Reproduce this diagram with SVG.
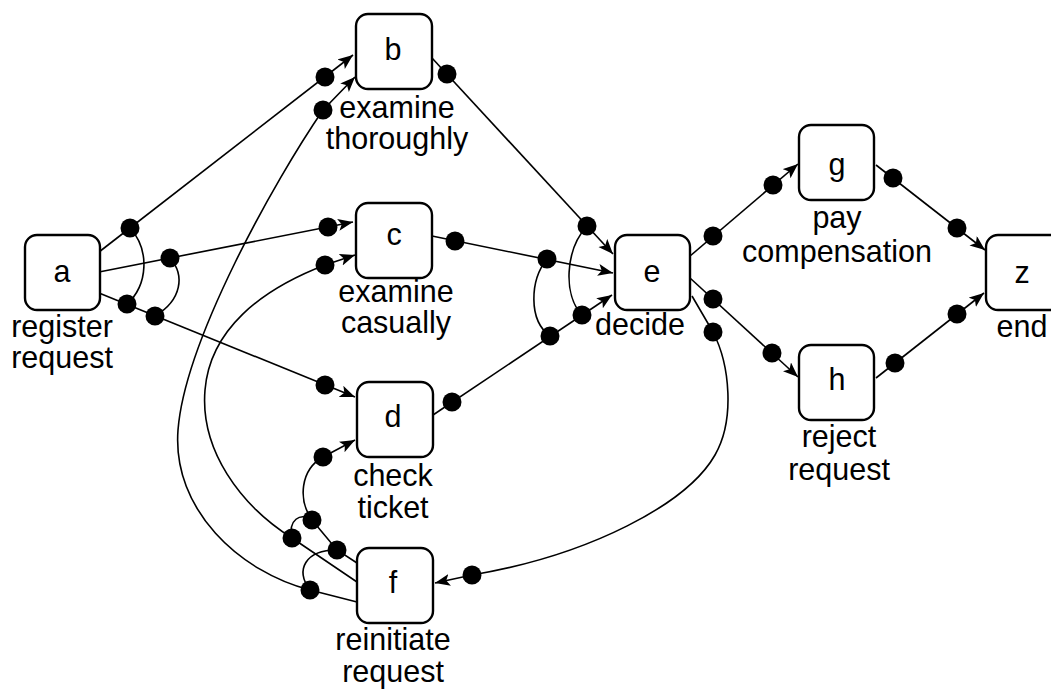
<svg xmlns="http://www.w3.org/2000/svg" width="1051" height="689" viewBox="0 0 1051 689">
<style>
.box{fill:#fff;stroke:#000;stroke-width:2.4}
.t{font-family:"Liberation Sans",Arial,sans-serif;font-size:30.5px;text-anchor:middle;fill:#000}
.e{fill:none;stroke:#000;stroke-width:1.6}
.arr{marker-end:url(#ah)}
.dot{fill:#000}
</style>
<defs>
<marker id="ah" markerUnits="userSpaceOnUse" markerWidth="16" markerHeight="13" refX="15" refY="6" orient="auto">
<path d="M0,0 L15,6 L0,12 L3.5,6 z" fill="#000"/>
</marker>
</defs>
<rect width="1051" height="689" fill="#fff"/>
<g id="connectors">
<path class="e arr" d="M99 252 L353 55"/>
<path class="e arr" d="M99 272 L353 222"/>
<path class="e arr" d="M99 293 L355 397"/>
<path class="e arr" d="M432 58 L613 254"/>
<path class="e arr" d="M432 236 L613 273"/>
<path class="e arr" d="M433 415 L612 295"/>
<path class="e arr" d="M690 256 L798 164"/>
<path class="e arr" d="M690 278 L798 377"/>
<path class="e arr" d="M876 165 L985 250"/>
<path class="e arr" d="M876 378 L984 293"/>
<path class="e arr" d="M692 296 L713 332 C730 365 735 420 715 455 C687 504 590 555 472 575 L435 583"/>
<path class="e arr" d="M357 602 L310 590 C240 572 172 510 178 430 C185 340 275 180 323 110 L355 77"/>
<path class="e arr" d="M357 582 L292 538 C240 505 200 450 205 390 C210 330 260 290 325 265 L355 255"/>
<path class="e arr" d="M357 563 L337 550 L312 520 C298 500 300 470 323 457 L355 440"/>
<path class="e" d="M130 228 C150 250 148 285 127 304"/>
<path class="e" d="M170 258 C185 275 182 300 155 316"/>
<path class="e" d="M587 226 C565 250 563 295 582 315"/>
<path class="e" d="M547 259 C530 280 528 320 550 336"/>
<path class="e" d="M292 538 C288 520 300 512 312 520"/>
<path class="e" d="M337 550 C305 550 295 570 310 590"/>
</g>
<g id="dots">
<circle class="dot" cx="130" cy="228" r="9.5"/>
<circle class="dot" cx="170" cy="258" r="9.5"/>
<circle class="dot" cx="127" cy="304" r="9.5"/>
<circle class="dot" cx="155" cy="316" r="9.5"/>
<circle class="dot" cx="325" cy="77" r="9.5"/>
<circle class="dot" cx="323" cy="110" r="9.5"/>
<circle class="dot" cx="328" cy="227" r="9.5"/>
<circle class="dot" cx="325" cy="265" r="9.5"/>
<circle class="dot" cx="325" cy="385" r="9.5"/>
<circle class="dot" cx="323" cy="457" r="9.5"/>
<circle class="dot" cx="447" cy="74" r="9.5"/>
<circle class="dot" cx="455" cy="241" r="9.5"/>
<circle class="dot" cx="452" cy="402" r="9.5"/>
<circle class="dot" cx="587" cy="226" r="9.5"/>
<circle class="dot" cx="547" cy="259" r="9.5"/>
<circle class="dot" cx="550" cy="336" r="9.5"/>
<circle class="dot" cx="582" cy="315" r="9.5"/>
<circle class="dot" cx="713" cy="236" r="9.5"/>
<circle class="dot" cx="773" cy="185" r="9.5"/>
<circle class="dot" cx="713" cy="299" r="9.5"/>
<circle class="dot" cx="772" cy="353" r="9.5"/>
<circle class="dot" cx="713" cy="332" r="9.5"/>
<circle class="dot" cx="893" cy="178" r="9.5"/>
<circle class="dot" cx="957" cy="228" r="9.5"/>
<circle class="dot" cx="895" cy="363" r="9.5"/>
<circle class="dot" cx="957" cy="314" r="9.5"/>
<circle class="dot" cx="472" cy="575" r="9.5"/>
<circle class="dot" cx="312" cy="520" r="9.5"/>
<circle class="dot" cx="292" cy="538" r="9.5"/>
<circle class="dot" cx="337" cy="550" r="9.5"/>
<circle class="dot" cx="310" cy="590" r="9.5"/>
</g>
<g id="node-a"><rect class="box" x="25" y="235" width="75" height="75" rx="12"/><text class="t" x="62" y="282">a</text><text class="t" x="62" y="337">register</text><text class="t" x="62" y="368">request</text></g>
<g id="node-b"><rect class="box" x="356" y="14" width="76" height="75" rx="12"/><text class="t" x="393" y="60">b</text><text class="t" x="397" y="118">examine</text><text class="t" x="397" y="149">thoroughly</text></g>
<g id="node-c"><rect class="box" x="356" y="203" width="76" height="75" rx="12"/><text class="t" x="394" y="245">c</text><text class="t" x="396" y="302">examine</text><text class="t" x="396" y="333">casually</text></g>
<g id="node-d"><rect class="box" x="357" y="382" width="76" height="75" rx="12"/><text class="t" x="393" y="427">d</text><text class="t" x="393" y="486">check</text><text class="t" x="393" y="518">ticket</text></g>
<g id="node-e"><rect class="box" x="615" y="235" width="75" height="75" rx="12"/><text class="t" x="652" y="282">e</text><text class="t" x="640" y="335">decide</text></g>
<g id="node-f"><rect class="box" x="357" y="548" width="76" height="75" rx="12"/><text class="t" x="393" y="593">f</text><text class="t" x="393" y="650">reinitiate</text><text class="t" x="393" y="682">request</text></g>
<g id="node-g"><rect class="box" x="799" y="125" width="75" height="75" rx="12"/><text class="t" x="837" y="175">g</text><text class="t" x="837" y="228">pay</text><text class="t" x="837" y="262">compensation</text></g>
<g id="node-h"><rect class="box" x="799" y="345" width="75" height="75" rx="12"/><text class="t" x="837" y="390">h</text><text class="t" x="839" y="447">reject</text><text class="t" x="839" y="480">request</text></g>
<g id="node-z"><rect class="box" x="986" y="235" width="76" height="75" rx="12"/><text class="t" x="1022" y="283">z</text><text class="t" x="1022" y="337">end</text></g>
</svg>
